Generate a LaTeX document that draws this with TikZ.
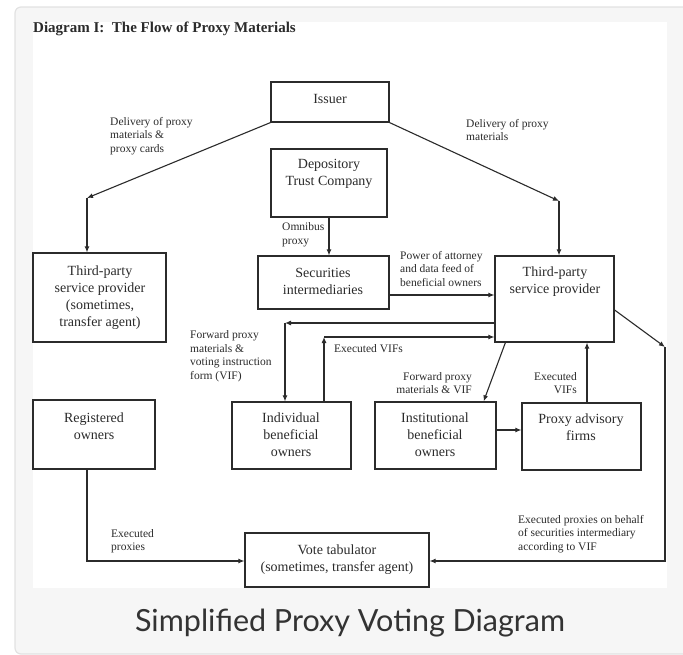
\documentclass[tikz,border=0pt]{standalone}
\usepackage{fontspec}
\setmainfont{Liberation Serif}
\newfontfamily\capfont{Lato}
\usetikzlibrary{arrows.meta,fit,calc}
\definecolor{ink}{HTML}{2B2B2B}
\definecolor{cardbg}{HTML}{F6F6F6}
\definecolor{cardline}{HTML}{E2E2E2}
\definecolor{captext}{HTML}{333333}
\begin{document}
\begin{tikzpicture}[x=1pt,y=-1pt,
  box/.style={draw=ink, line width=1.2pt, inner sep=0pt},
  btext/.style={font=\fontsize{14}{17}\selectfont, text=ink, align=center, inner sep=0pt},
  lbl/.style={font=\fontsize{11.5}{13.5}\selectfont, text=ink, align=left, inner sep=0pt, anchor=west},
  rlbl/.style={font=\fontsize{11.5}{13.5}\selectfont, text=ink, align=right, inner sep=0pt, anchor=east},
  conn/.style={draw=ink, line width=1.1pt, -{Latex[length=6pt,width=5pt]}},
]
\useasboundingbox (0,0) rectangle (683,655);
\clip (0,0) rectangle (683,655);
% card and image area
\filldraw[fill=cardbg, draw=cardline, line width=1.2pt, rounded corners=6pt] (15,7) rectangle (720,654);
\fill[white] (33,22) rectangle (667,588);

% title
\node[anchor=west, font=\fontsize{15}{17}\selectfont\bfseries, text=ink, inner sep=0pt] (title) at (33,29) {Diagram I:\ \ The Flow of Proxy Materials};

% boxes
\node[box, fit={(271,82) (389,122)}] (issuer) {};
\node[box, fit={(271,149) (387,217)}] (dtc) {};
\node[box, fit={(258,256) (389,309)}] (secint) {};
\node[box, fit={(33,253) (166,342)}] (tpl) {};
\node[box, fit={(495,256) (614,342)}] (tpr) {};
\node[box, fit={(33,400) (155,469)}] (reg) {};
\node[box, fit={(232,402) (351,469)}] (ind) {};
\node[box, fit={(375,402) (496,469)}] (inst) {};
\node[box, fit={(522,403) (641,470)}] (pa) {};
\node[box, fit={(245,533) (429,587)}] (vote) {};

% box texts
\node[btext] (tIssuer) at (330,99) {Issuer};
\node[btext] (tDtc) at (329,174) {Depository\\Trust Company};
\node[btext] (tSec) at (323,281) {Securities\\intermediaries};
\node[btext] (tTpl) at (100,298) {Third-party\\service provider\\(sometimes,\\transfer agent)};
\node[btext] (tTpr) at (555,282) {Third-party\\service provider};
\node[btext] (tReg) at (94,426) {Registered\\owners};
\node[btext] (tInd) at (291,435) {Individual\\beneficial\\owners};
\node[btext] (tInst) at (435,435) {Institutional\\beneficial\\owners};
\node[btext] (tPa) at (581,427) {Proxy advisory\\firms};
\node[btext] (tVote) at (337,560) {Vote tabulator\\(sometimes, transfer agent)};

% labels
\node[lbl] (l1) at (110,136) {Delivery of proxy\\materials \&\\proxy cards};
\node[lbl] (l2) at (466,130) {Delivery of proxy\\materials};
\node[lbl] (l3) at (282,235) {Omnibus\\proxy};
\node[lbl] (l4) at (400,269) {Power of attorney\\and data feed of\\beneficial owners};
\node[lbl] (l5) at (190,356) {Forward proxy\\materials \&\\voting instruction\\form (VIF)};
\node[lbl] (l6) at (334,349) {Executed VIFs};
\node[rlbl] (l7) at (472,383) {Forward proxy\\materials \& VIF};
\node[rlbl] (l8) at (577,383) {Executed\\VIFs};
\node[lbl] (l9) at (111,541) {Executed\\proxies};
\node[lbl] (l10) at (518,534) {Executed proxies on behalf\\of securities intermediary\\according to VIF};

% connectors
\coordinate (c1) at (87,198);
\draw[conn] (issuer.south west) -- (c1);
\draw[conn] (c1) -- (c1 |- tpl.north);
\coordinate (c2) at (559,201);
\draw[conn] (issuer.south east) -- (c2);
\draw[conn] (c2) -- (c2 |- tpr.north);
\draw[conn] (dtc.south) -- (dtc.south |- secint.north);
\coordinate (c4) at (389,295);
\draw[conn] (secint.east |- c4) -- (tpr.west |- c4);
\coordinate (c5) at (285,323);
\draw[conn] (tpr.west |- c5) -- (c5);
\draw[conn] (c5) -- (c5 |- ind.north);
\coordinate (c6) at (324,337);
\draw[conn] (c6 |- ind.north) -- (c6);
\draw[conn] (c6) -- (tpr.west |- c6);
\draw[conn] ($(tpr.south west)+(11,0)$) -- ($(inst.north east)+(-13,0)$);
\coordinate (c8) at (500,430);
\draw[conn] (inst.east |- c8) -- (pa.west |- c8);
\coordinate (c9) at (587,380);
\draw[conn] (c9 |- pa.north) -- (c9 |- tpr.south);
\coordinate (c10a) at (614,310);
\coordinate (c10) at (665,347);
\coordinate (c10b) at (665,561);
\draw[conn] (tpr.east |- c10a) -- (c10);
\draw[conn] (c10) -- (c10b) -- (vote.east |- c10b);
\coordinate (c11) at (87,561);
\draw[conn] (c11 |- reg.south) -- (c11) -- (vote.west |- c11);

% caption
\node[font=\capfont\fontsize{30.5}{32}\selectfont, text=captext, inner sep=0pt] (cap) at (350,623) {Simplified Proxy Voting Diagram};
\end{tikzpicture}
\end{document}
